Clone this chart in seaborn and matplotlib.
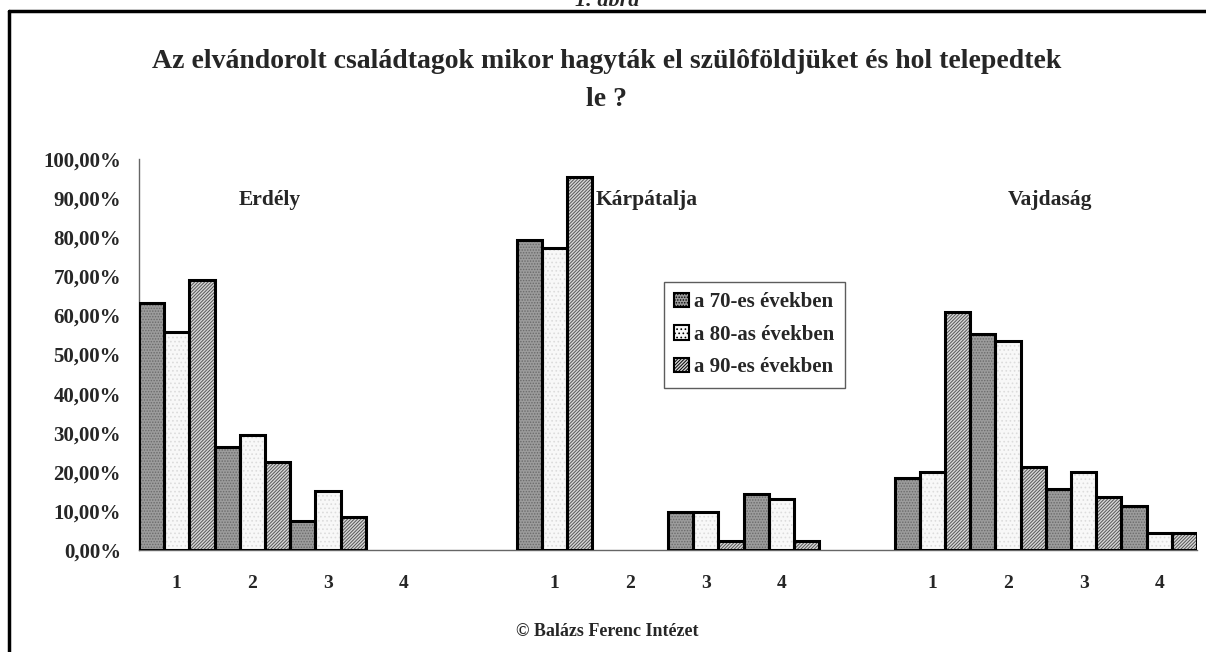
import numpy as np
import pandas as pd
import matplotlib
matplotlib.use("Agg")
import matplotlib.pyplot as plt
from matplotlib.patches import Rectangle, Patch
from matplotlib.lines import Line2D
import seaborn as sns

# data (shares, 0..1)
regions = ["Erdély", "Kárpátalja", "Vajdaság"]
places = ["1", "2", "3", "4"]
decades = ["a 70-es években", "a 80-as években", "a 90-es években"]
erdely = [[0.632, 0.558, 0.691],
          [0.263, 0.294, 0.225],
          [0.074, 0.151, 0.085],
          [0.0, 0.0, 0.0]]
karpatalja = [[0.793, 0.772, 0.954],
              [0.0, 0.0, 0.0],
              [0.097, 0.098, 0.023],
              [0.143, 0.130, 0.023]]
vajdasag = [[0.184, 0.200, 0.608],
            [0.552, 0.535, 0.212],
            [0.156, 0.200, 0.136],
            [0.113, 0.044, 0.044]]

rows = []
for reg, vals in zip(regions, [erdely, karpatalja, vajdasag]):
    for pl, v3 in zip(places, vals):
        for dec, v in zip(decades, v3):
            rows.append({"slot": reg + " " + pl, "decade": dec, "share": v})
df = pd.DataFrame(rows)

order = []
for i, reg in enumerate(regions):
    order += [reg + " " + p for p in places]
    if i < len(regions) - 1:
        order.append("gap%d" % i)

sns.set_style("white")
plt.rcParams["font.family"] = ["Liberation Serif", "DejaVu Serif"]
plt.rcParams["font.weight"] = "bold"
plt.rcParams["hatch.linewidth"] = 0.7

fig = plt.figure(figsize=(12.06, 6.52), dpi=100)
ax = fig.add_axes([139 / 1206, 1 - 550 / 652, (1197 - 139) / 1206, (550 - 159) / 652])

sns.barplot(data=df, x="slot", y="share", hue="decade", order=order,
            hue_order=decades, width=1.0, gap=0, errorbar=None, ax=ax,
            legend=False)

styles = {
    decades[0]: dict(fc="#9c9c9c", hatch="......", hc="#6a6a6a"),
    decades[1]: dict(fc="#f8f8f8", hatch="....", hc="#dcdcdc"),
    decades[2]: dict(fc="#d8d8d8", hatch="//////////", hc="#555555"),
}
for cont, dec in zip(ax.containers, decades):
    st = styles[dec]
    for p in cont.patches:
        p.set_facecolor(st["fc"])
        p.set_hatch(st["hatch"])
        p.set_edgecolor(st["hc"])
        p.set_linewidth(0)
        if p.get_height() > 0:
            ax.add_patch(Rectangle(p.get_xy(), p.get_width(), p.get_height(),
                                   fill=False, ec="black", lw=2.2, zorder=3))

n = len(order)
ax.set_xlim(-0.5, n - 0.5)
ax.set_ylim(0, 1.0)
ax.set_xticks(np.arange(n + 1) - 0.5)
ax.set_xticklabels([])
centers = [i for i, s in enumerate(order) if not s.startswith("gap")]
ax.set_xticks(centers, minor=True)
ax.set_xticklabels([order[i].split(" ")[-1] for i in centers], minor=True,
                   fontsize=14, fontweight="bold")
ax.tick_params(axis="x", which="minor", length=0, pad=18)
ax.tick_params(axis="x", which="major", length=6, direction="out", color="#666666", width=1)
ax.set_yticks(np.linspace(0, 1, 11))
ax.yaxis.set_major_formatter(matplotlib.ticker.FuncFormatter(
    lambda v, _: ("%.2f%%" % (v * 100)).replace(".", ",")))
ax.tick_params(axis="y", length=6, direction="out", color="#666666", width=1, pad=7,
               labelsize=15)
for t in ax.get_yticklabels():
    t.set_fontweight("bold")
ax.set_xlabel("")
ax.set_ylabel("")
for s in ["top", "right"]:
    ax.spines[s].set_visible(False)
for s in ["left", "bottom"]:
    ax.spines[s].set_color("#666666")
    ax.spines[s].set_linewidth(1)

# region names
region_x = [270, 647, 1050]
for reg, xp in zip(regions, region_x):
    fig.text(xp / 1206, 1 - 200 / 652, reg, ha="center", va="center",
             fontsize=15.5, fontweight="bold")

handles = [Patch(facecolor=styles[d]["fc"], hatch=styles[d]["hatch"],
                 edgecolor="black", linewidth=1.5) for d in decades]
leg = fig.legend(handles, decades, loc="upper left",
                 bbox_to_anchor=(664 / 1206, 1 - 282 / 652), borderaxespad=0,
                 frameon=True, fancybox=False, edgecolor="#333333",
                 handlelength=0.7, handleheight=0.7, handletextpad=0.25,
                 borderpad=0.5, labelspacing=0.6, prop={"size": 15, "weight": "bold"})
leg.get_frame().set_linewidth(1)

fig.text(607 / 1206, 1 - 62 / 652,
         "Az elvándorolt családtagok mikor hagyták el szülôföldjüket és hol telepedtek",
         ha="center", va="center", fontsize=20, fontweight="bold")
fig.text(607 / 1206, 1 - 100 / 652, "le ?", ha="center", va="center",
         fontsize=20, fontweight="bold")
fig.text(607 / 1206, 1 - 1 / 652, "1. ábra", ha="center", va="center",
         fontsize=16, fontweight="bold", style="italic")
fig.text(607 / 1206, 1 - 631 / 652, "© Balázs Ferenc Intézet", ha="center",
         va="center", fontsize=13, fontweight="bold")

# outer frame (top and left edges)
fig.add_artist(Line2D([9 / 1206, 1], [1 - 11 / 652, 1 - 11 / 652], color="black", lw=2.5))
fig.add_artist(Line2D([9 / 1206, 9 / 1206], [0, 1 - 11 / 652], color="black", lw=2.5))

fig.savefig("out.png", dpi=100)
